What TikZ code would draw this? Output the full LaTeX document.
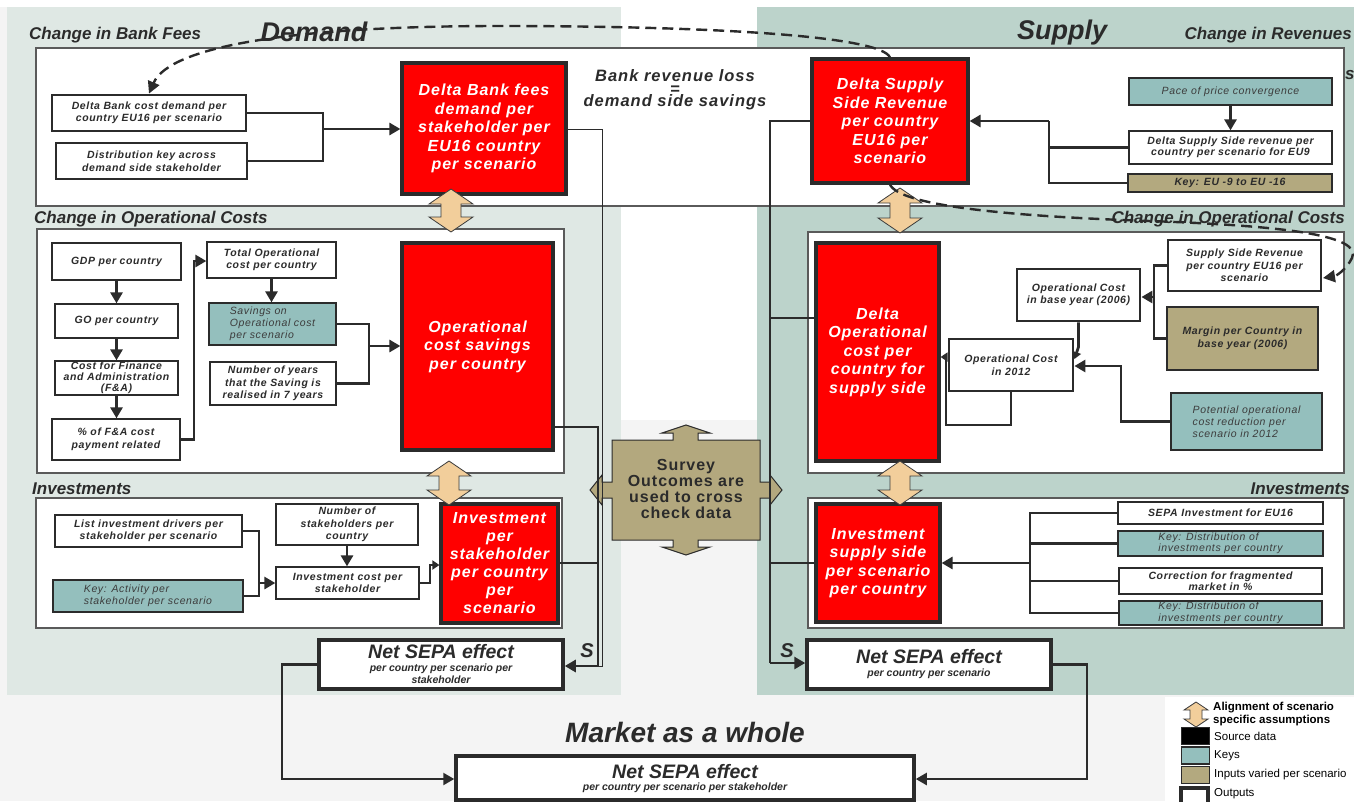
\documentclass[tikz,border=0pt]{standalone}
\usepackage{fontspec}
\setmainfont{Liberation Sans}
\newfontfamily\spacedsans[LetterSpace=6]{Liberation Sans}
\usetikzlibrary{arrows.meta}

\definecolor{ink}{HTML}{2B2B2B}
\definecolor{inkgray}{HTML}{3C3C3C}
\definecolor{paneldemand}{HTML}{DFE8E4}
\definecolor{panelsupply}{HTML}{BCD3CB}
\definecolor{pagegray}{HTML}{F4F4F4}
\definecolor{keyteal}{HTML}{94BFBD}
\definecolor{inputtan}{HTML}{B3A97F}
\definecolor{surveytan}{HTML}{B3A87E}
\definecolor{alignbeige}{HTML}{F2CE9B}
\definecolor{outred}{HTML}{FF0000}
\definecolor{bandline}{HTML}{5A5A5A}

% font presets
\newcommand\fBox{\spacedsans\bfseries\itshape\fontsize{10.5}{12.5}\selectfont}
\newcommand\fBoxTight{\spacedsans\bfseries\itshape\fontsize{10.5}{10.8}\selectfont}
\newcommand\fKey{\spacedsans\itshape\fontsize{10.5}{12}\selectfont}
\newcommand\fRed{\spacedsans\bfseries\itshape\fontsize{16}{18.5}\selectfont}
\newcommand\fTitle{\bfseries\itshape\fontsize{17}{20}\selectfont}
\newcommand\fBig{\bfseries\itshape\fontsize{27}{30}\selectfont}
\newcommand\fMarket{\bfseries\itshape\fontsize{28}{30}\selectfont}
\newcommand\fNet{\bfseries\itshape\fontsize{19.5}{22}\selectfont}
\newcommand\fNetSub{\bfseries\itshape\fontsize{10.5}{12}\selectfont}
\newcommand\fSurvey{\spacedsans\bfseries\fontsize{16}{15.7}\selectfont}
\newcommand\fRevenue{\spacedsans\bfseries\itshape\fontsize{16.5}{12.5}\selectfont}
\newcommand\fLegend{\fontsize{11.5}{13.5}\selectfont}

% a box given by its two corners (pixel-style coordinates)
\newcommand{\boxat}[7]{%
  \pgfmathsetmacro{\bxw}{#5-#3}%
  \pgfmathsetmacro{\bxh}{#6-#4}%
  \pgfmathsetmacro{\bxx}{(#3+#5)/2}%
  \pgfmathsetmacro{\bxy}{(#4+#6)/2}%
  \node[#1, minimum width=\bxw, minimum height=\bxh] (#2) at (\bxx,\bxy) {#7};}

% vertical double block arrow: x, ytop, ybot, head half width, stem half width, head length
\newcommand{\alignArrow}[6]{%
  \filldraw[alignfill] (#1,#2) -- ({#1+#4},{#2+#6}) -- ({#1+#5},{#2+#6}) -- ({#1+#5},{#3-#6})
    -- ({#1+#4},{#3-#6}) -- (#1,#3) -- ({#1-#4},{#3-#6}) -- ({#1-#5},{#3-#6})
    -- ({#1-#5},{#2+#6}) -- ({#1-#4},{#2+#6}) -- cycle;}

\tikzset{
  band/.style={draw=bandline, line width=1.2pt, fill=white},
  src/.style={draw=ink, line width=1.3pt, fill=white, inner sep=0pt, align=center, font=\fBox, text=ink},
  srcthick/.style={src, line width=2.8pt},
  keybox/.style={draw=ink, line width=1.3pt, fill=keyteal, inner sep=0pt, align=left, font=\fKey, text=inkgray},
  inbox/.style={src, fill=inputtan},
  outbox/.style={draw=ink, line width=3.2pt, fill=outred, text=white, font=\fRed, align=center, inner sep=0pt},
  net/.style={draw=ink, line width=3.5pt, fill=white, inner sep=0pt},
  netTitle/.style={font=\fNet, text=ink, inner sep=0pt},
  netSub/.style={font=\fNetSub, text=ink, inner sep=0pt, align=center},
  title/.style={font=\fTitle, text=ink, inner sep=0pt},
  bigtitle/.style={font=\fBig, text=ink, inner sep=0pt},
  conn/.style={draw=ink, line width=2.8pt},
  thinconn/.style={draw=ink, line width=1pt},
  outconn/.style={draw=ink, line width=2.3pt},
  tip/.style={-{Triangle[length=11pt,width=12pt]}},
  smalltip/.style={-{Triangle[length=7pt,width=9pt]}},
  alignfill/.style={fill=alignbeige, draw=inkgray, line width=0.8pt},
  feedback/.style={draw=ink, line width=2.4pt, dash pattern=on 11pt off 6pt,
    -{Triangle[length=12pt,width=12pt]}},
  legendtext/.style={font=\fLegend, text=black, inner sep=0pt, anchor=west, align=left},
  legendbox/.style={draw=ink, line width=1.2pt, minimum width=28, minimum height=17, inner sep=0pt},
}

\begin{document}
\begin{tikzpicture}[x=1pt, y=-1pt]

% ---------- page and the two panels ----------
\fill[pagegray] (0,0) rectangle (1354,801);
\fill[white] (0,0) rectangle (1354,7);
\fill[white] (620,0) rectangle (757,420);
\fill[paneldemand] (7,7) rectangle (621,695);
\fill[panelsupply] (757,7) rectangle (1354,695);
\fill[white] (1165,697) rectangle (1354,801);
\useasboundingbox (0,0) rectangle (1354,801);

% ---------- section frames ----------
\draw[band] (36,48) rectangle (1344,206);
\draw[band] (37,229) rectangle (564,473);
\draw[band] (808,232) rectangle (1344,473);
\draw[band] (36,498) rectangle (562,628);
\draw[band] (808,498) rectangle (1344,628);

% ---------- headings ----------
\node[title, anchor=west] (tBankFees) at (29,35) {Change in Bank Fees};
\node[bigtitle] (tDemand) at (314,32) {Demand};
\node[bigtitle] (tSupply) at (1062,33) {Supply};
\node[title, anchor=east] (tRevenues) at (1352,35) {Change in Revenues};
\node[title, anchor=west] (tStray) at (1345,75) {s};
\node[title, anchor=west] (tOpL) at (34,219) {Change in Operational Costs};
\node[title, anchor=east] (tOpR) at (1345,219) {Change in Operational Costs};
\node[title, anchor=west] (tInvL) at (32,489) {Investments};
\node[title, anchor=east] (tInvR) at (1350,489) {Investments};
\node[font=\fMarket, text=ink, inner sep=0pt] (tMarket) at (685,732) {Market as a whole};
\node[font=\fRevenue, text=ink, inner sep=0pt, align=center] (bankRev) at (675,90)
  {Bank revenue loss\\=\\demand side savings};

% ---------- survey cross-check shape ----------
\filldraw[fill=surveytan, draw=ink, line width=1pt]
  (612,440) -- (673,440) -- (673,433) -- (662,433) -- (686,425) -- (710,433) -- (698,433) -- (698,440) -- (760,440)
  -- (760,482) -- (770,482) -- (770,475) -- (782,490) -- (770,505) -- (770,498) -- (760,498) -- (760,540)
  -- (698,540) -- (698,547) -- (710,547) -- (686,555) -- (662,547) -- (673,547) -- (673,540) -- (612,540)
  -- (612,498) -- (602,498) -- (602,505) -- (590,490) -- (602,475) -- (602,482) -- (612,482) -- cycle;
\node[font=\fSurvey, text=ink, align=center, inner sep=0pt] (survey) at (686,489)
  {Survey\\Outcomes are\\used to cross\\check data};

% ---------- change in bank fees / revenues ----------
\boxat{srcthick}{bcd}{52}{95}{246}{131}{Delta Bank cost demand per\\country EU16 per scenario}
\boxat{src}{dkey}{56}{143}{247}{179}{Distribution key across\\demand side stakeholder}
\boxat{outbox}{redA}{402}{63}{566}{194}{Delta Bank fees\\demand per\\stakeholder per\\EU16 country\\per scenario}
\boxat{outbox}{redB}{812}{59}{968}{183}{Delta Supply\\Side Revenue\\per country\\EU16 per\\scenario}
\boxat{keybox}{pace}{1129}{78}{1332}{105}{Pace of price convergence}
\boxat{src,font=\fBoxTight}{dsr9}{1129}{131}{1332}{164}{Delta Supply Side revenue per\\country per scenario for EU9}
\boxat{inbox}{keyeu}{1128}{174}{1332}{192}{Key: EU -9 to EU -16}

% ---------- operational costs, demand side ----------
\boxat{src}{gdp}{52}{243}{181}{280}{GDP per country}
\boxat{src}{go}{55}{304}{178}{338}{GO per country}
\boxat{src,font=\fBoxTight}{cfa}{55}{361}{178}{395}{Cost for Finance\\and Administration\\(F\&A)}
\boxat{src}{pfa}{52}{419}{180}{460}{\% of F\&A cost\\payment related}
\boxat{src}{tot}{207}{242}{336}{278}{Total Operational\\cost per country}
\boxat{keybox}{sav}{209}{303}{336}{345}{Savings on\\Operational cost\\per scenario}
\boxat{src}{nyr}{210}{362}{336}{405}{Number of years\\that the Saving is\\realised in 7 years}
\boxat{outbox}{redC}{402}{243}{553}{450}{Operational\\cost savings\\per country}

% ---------- operational costs, supply side ----------
\boxat{outbox}{redD}{816}{243}{939}{461}{Delta\\Operational\\cost per\\country for\\supply side}
\boxat{srcthick}{ssr}{1168}{240}{1321}{291}{Supply Side Revenue\\per country EU16 per\\scenario}
\boxat{srcthick}{ocb}{1017}{269}{1140}{321}{Operational Cost\\in base year (2006)}
\boxat{inbox}{mar}{1167}{307}{1318}{370}{Margin per Country in\\base year (2006)}
\boxat{srcthick}{oc12}{949}{339}{1073}{391}{Operational Cost\\in 2012}
\boxat{keybox}{pot}{1171}{393}{1322}{450}{Potential operational\\cost reduction per\\scenario in 2012}

% ---------- investments, demand side ----------
\boxat{src}{lid}{55}{515}{242}{547}{List investment drivers per\\stakeholder per scenario}
\boxat{keybox}{kact}{53}{580}{243}{612}{Key: Activity per\\stakeholder per scenario}
\boxat{src}{nsh}{276}{504}{418}{545}{Number of\\stakeholders per\\country}
\boxat{src}{ics}{276}{567}{419}{599}{Investment cost per\\stakeholder}
\boxat{outbox,font=\spacedsans\bfseries\itshape\fontsize{16}{18}\selectfont}{redE}{441}{504}{558}{623}{Investment\\per\\stakeholder\\per country\\per\\scenario}

% ---------- investments, supply side ----------
\boxat{outbox}{redF}{816}{504}{940}{622}{Investment\\supply side\\per scenario\\per country}
\boxat{src}{sepa16}{1118}{502}{1323}{524}{SEPA Investment for EU16}
\boxat{keybox,font=\spacedsans\itshape\fontsize{10.5}{11.5}\selectfont}{kd1}{1118}{531}{1323}{556}{Key: Distribution of\\investments per country}
\boxat{src,font=\fBoxTight}{cfm}{1119}{568}{1322}{594}{Correction for fragmented\\market in \%}
\boxat{keybox,font=\spacedsans\itshape\fontsize{10.5}{11.5}\selectfont}{kd2}{1119}{601}{1322}{625}{Key: Distribution of\\investments per country}

% ---------- net effects ----------
\boxat{net}{nsl}{319}{640}{563}{689}{}
\node[netTitle] (nslT) at (441,652) {Net SEPA effect};
\node[netSub] (nslS) at (441,674) {per country per scenario per\\stakeholder};
\boxat{net}{nsr}{807}{640}{1051}{689}{}
\node[netTitle] (nsrT) at (929,657) {Net SEPA effect};
\node[netSub] (nsrS) at (929,674) {per country per scenario};
\boxat{net}{nsb}{456}{756}{914}{800}{}
\node[netTitle] (nsbT) at (685,772) {Net SEPA effect};
\node[netSub] (nsbS) at (685,788) {per country per scenario per stakeholder};

\node[font=\bfseries\itshape\fontsize{20}{22}\selectfont, text=ink, inner sep=0pt] (sLeft) at (587,651) {S};
\node[font=\bfseries\itshape\fontsize{20}{22}\selectfont, text=ink, inner sep=0pt] (sRight) at (787,651) {S};

% ---------- connectors: bank fees ----------
\coordinate (jA) at (323,129);
\draw[conn] (bcd.east) -| (jA);
\draw[conn] (dkey.east) -| (jA);
\draw[conn,tip] (jA) -- (redA.west |- jA);

% ---------- connectors: demand-side bus ----------
\coordinate (thinTurn) at (602,129);
\coordinate (busL) at (598,666);
\coordinate (cTurn) at (598,427);
\coordinate (eTurn) at (598,563);
\draw[thinconn] (redA.east |- thinTurn) -- (thinTurn) |- (busL);
\draw[conn] (cTurn -| redC.east) -- (cTurn) -- (busL);
\draw[conn] (eTurn -| redE.east) -- (eTurn);
\draw[conn,tip] (busL) -- (nsl.east |- busL);

% ---------- connectors: revenues ----------
\draw[conn,tip] (pace.south) -- (dsr9.north);
\coordinate (jB) at (1049,121);
\draw[conn] (dsr9.west) -| (jB);
\draw[conn] (keyeu.west) -| (jB);
\draw[conn,tip] (jB) -- (redB.east |- jB);

% ---------- connectors: supply-side bus ----------
\coordinate (busRTop) at (770,121);
\coordinate (busR) at (770,663);
\coordinate (dTurn) at (770,318);
\coordinate (fTurn) at (770,563);
\draw[conn] (redB.west |- busRTop) -- (busRTop) -- (busR);
\draw[conn] (dTurn -| redD.west) -- (dTurn);
\draw[conn] (fTurn -| redF.west) -- (fTurn);
\draw[conn,tip] (busR) -- (nsr.west |- busR);

% ---------- connectors: operational costs, demand ----------
\draw[conn,tip] (gdp.south) -- (go.north);
\draw[conn,tip] (go.south) -- (cfa.north);
\draw[conn,tip] (cfa.south) -- (cfa.south |- pfa.north);
\coordinate (jC) at (194,261);
\draw[conn,tip] (pfa.east) -| (jC) -- (tot.west |- jC);
\draw[conn,tip] (tot.south) -- (tot.south |- sav.north);
\coordinate (jD) at (369,346);
\draw[conn] (sav.east) -| (jD);
\draw[conn] (nyr.east) -| (jD);
\draw[conn,tip] (jD) -- (redC.west |- jD);

% ---------- connectors: operational costs, supply ----------
\coordinate (jE) at (1154,297);
\draw[conn] (ssr.west) -| (jE);
\draw[conn] (mar.west) -| (jE);
\draw[conn,tip] (jE) -- (ocb.east |- jE);
\coordinate (jF) at (1078.5,347);
\draw[conn,smalltip] (ocb.south -| jF) -- (jF) -- ([yshift=6pt]oc12.east);
\coordinate (jG) at (1121,366);
\draw[conn,tip] (pot.west) -| (jG) -- (oc12.east |- jG);
\coordinate (jH) at (946,425);
\coordinate (jI) at (946,357);
\draw[conn,smalltip] (oc12.south) |- (jH) -- (jI) -- (jI -| redD.east);

% ---------- connectors: investments, demand ----------
\coordinate (jJ) at (259,583);
\draw[conn] (lid.east) -| (jJ);
\draw[conn] (kact.east) -| (jJ);
\draw[conn,tip] (jJ) -- (ics.west |- jJ);
\draw[conn,tip] (nsh.south) -- (nsh.south |- ics.north);
\coordinate (jK) at (430,565);
\draw[conn,smalltip] (ics.east) -| (jK) -- (redE.west |- jK);

% ---------- connectors: investments, supply ----------
\coordinate (jL) at (1030,563);
\draw[conn] (sepa16.west) -| (jL);
\draw[conn] (kd1.west) -| (jL);
\draw[conn] (cfm.west) -| (jL);
\draw[conn] (kd2.west) -| (jL);
\draw[conn,tip] (jL) -- (redF.east |- jL);

% ---------- connectors: market as a whole ----------
\coordinate (jM) at (282,779);
\draw[outconn,tip] (nsl.west) -| (jM) -- (nsb.west |- jM);
\coordinate (jN) at (1087,779);
\draw[outconn,tip] (nsr.east) -| (jN) -- (nsb.east |- jN);

% ---------- alignment of scenario assumptions ----------
\alignArrow{451}{189}{232}{22}{10}{15}
\alignArrow{449}{461}{505}{22}{10}{15}
\alignArrow{900}{188}{233}{22}{10}{15}
\alignArrow{900}{461}{505}{22}{10}{15}

% ---------- feedback links ----------
\draw[feedback] (redB.north) .. controls (880,35) and (700,26) .. (500,26)
  .. controls (300,26) and (170,45) .. (bcd.north);
\coordinate (fbEnd) at (1323,278);
\draw[feedback] (redB.south) .. controls (900,205) and (1000,216) .. (1150,221)
  .. controls (1290,226) and (1362,236) .. (1352,258)
  .. controls (1346,270) and (1336,276) .. (fbEnd);

% ---------- legend ----------
\alignArrow{1196}{702}{727}{12}{6}{8}
\node[legendtext, font=\bfseries\fontsize{11.5}{13.5}\selectfont] (lgAlign) at (1213,714) {Alignment of scenario\\specific assumptions};
\node[legendbox, fill=black] (lgSrc) at (1195.5,736) {};
\node[legendtext] (lgSrcT) at (1214,736) {Source data};
\node[legendbox, fill=keyteal] (lgKey) at (1195.5,755.5) {};
\node[legendtext] (lgKeyT) at (1214,756) {Keys};
\node[legendbox, fill=inputtan] (lgIn) at (1195.5,775) {};
\node[legendtext] (lgInT) at (1214,775) {Inputs varied per scenario};
\node[legendbox, fill=white, line width=3.5pt, minimum width=27, minimum height=16] (lgOut) at (1194.5,796) {};
\node[legendtext] (lgOutT) at (1214,794) {Outputs};

\end{tikzpicture}
\end{document}
